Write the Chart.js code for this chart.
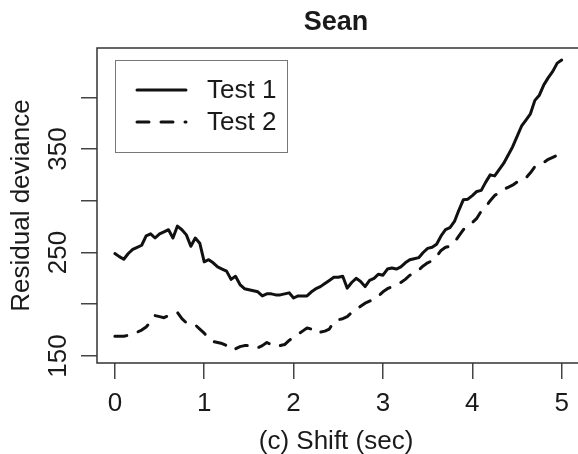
<!DOCTYPE html>
<html>
<head>
<meta charset="utf-8">
<script src="https://cdn.jsdelivr.net/npm/chart.js@4"></script>
<style>
  html, body { margin: 0; padding: 0; background: #fff; }
  #wrap { width: 578px; height: 454px; }
</style>
</head>
<body>
<div id="wrap"><canvas id="chart" width="578" height="454"></canvas></div>
<script>
// Shift (sec) for each evaluated point
const shift = [
  0.00, 0.05, 0.10, 0.15, 0.20, 0.25, 0.30, 0.35, 0.40, 0.45,
  0.50, 0.55, 0.60, 0.65, 0.70, 0.75, 0.80, 0.85, 0.90, 0.95,
  1.00, 1.05, 1.10, 1.15, 1.20, 1.25, 1.30, 1.35, 1.40, 1.45,
  1.50, 1.55, 1.60, 1.65, 1.70, 1.75, 1.80, 1.85, 1.90, 1.95,
  2.00, 2.05, 2.10, 2.15, 2.20, 2.25, 2.30, 2.35, 2.40, 2.45,
  2.50, 2.55, 2.60, 2.65, 2.70, 2.75, 2.80, 2.85, 2.90, 2.95,
  3.00, 3.05, 3.10, 3.15, 3.20, 3.25, 3.30, 3.35, 3.40, 3.45,
  3.50, 3.55, 3.60, 3.65, 3.70, 3.75, 3.80, 3.85, 3.90, 3.95,
  4.00, 4.05, 4.10, 4.15, 4.20, 4.25, 4.30, 4.35, 4.40, 4.45,
  4.50, 4.55, 4.60, 4.65, 4.70, 4.75, 4.80, 4.85, 4.90, 4.95,
  5.00
];

// Residual deviance, Test 1 (solid)
const test1 = [
  249, 246, 243.5, 249, 253, 255, 257, 266, 268, 264,
  268, 270, 272, 264, 275.5, 272, 267, 256, 264, 259,
  241, 243, 240, 236, 234, 232, 224, 227, 219, 215,
  214, 213, 212, 208, 210, 210, 209, 209, 210, 211,
  206, 208, 208, 208, 212, 215, 217, 220, 223, 226,
  226, 227, 215.5, 221, 225, 222, 217, 223, 225, 229,
  228, 234, 235, 234, 236, 240, 243, 244, 245, 250,
  254, 255, 258, 266, 272, 274, 280, 291, 301, 301.5,
  305, 309, 310, 318, 325, 324, 330, 336, 344, 352,
  362, 372, 378, 384, 397, 402, 412, 419, 425, 433,
  436
];

// Residual deviance, Test 2 (dashed)
const test2 = [
  169, 169, 169, 170, 172, 173, 175, 178, 183, 189,
  188, 187, 189, 190, 192, 186, 182, 181, 180, 176,
  172, 167, 164, 163, 162, 160, 156, 157, 159, 160,
  160, 158, 158, 160, 163, 161, 159, 160, 161, 165,
  168, 171, 174, 177, 176, 172, 173, 174, 176, 183,
  185, 186, 188, 192, 195, 198, 201, 203, 205, 208,
  212, 215, 217, 219, 221, 224, 228, 230, 233, 237,
  240, 242, 246, 252, 255, 256, 260, 266, 272, 276,
  279, 283, 290, 294, 300, 305, 308, 311, 313, 315,
  318, 321, 322, 327, 333, 335, 337, 340, 342, 344,
  345
];

const xTicks = [0, 1, 2, 3, 4, 5];
const yTicks = [150, 200, 250, 300, 350, 400];
const yLabelled = [150, 250, 350];

const FONT = '"Liberation Sans", Arial, sans-serif';
const INK = '#1a1a1a';
const AXIS = '#444';

function toPoints(ys) {
  return ys.map((y, i) => ({ x: shift[i], y: y }));
}

// R style frame: the right side of the box falls outside the picture
const framePlugin = {
  id: 'frame',
  afterDatasetsDraw(chart) {
    const { ctx, chartArea: a } = chart;
    ctx.save();
    ctx.strokeStyle = '#333';
    ctx.lineWidth = 1.5;
    ctx.beginPath();
    ctx.moveTo(chart.width, a.top);
    ctx.lineTo(a.left, a.top);
    ctx.lineTo(a.left, a.bottom);
    ctx.lineTo(chart.width, a.bottom);
    ctx.stroke();
    ctx.restore();
  }
};

// boxed legend in the top left corner of the plot
const boxLegendPlugin = {
  id: 'boxLegend',
  afterDraw(chart) {
    const { ctx, chartArea: a } = chart;
    const x0 = a.left + 18, y0 = a.top + 12;
    ctx.save();
    ctx.strokeStyle = '#777';
    ctx.lineWidth = 1;
    ctx.strokeRect(x0 + 0.5, y0 + 0.5, 172, 92);
    chart.data.datasets.forEach((ds, i) => {
      const y = y0 + 30 + i * 32;
      ctx.strokeStyle = ds.borderColor;
      ctx.lineWidth = ds.borderWidth;
      ctx.lineCap = 'round';
      ctx.setLineDash(ds.borderDash || []);
      ctx.beginPath();
      ctx.moveTo(x0 + 22, y);
      ctx.lineTo(x0 + 71, y);
      ctx.stroke();
      ctx.setLineDash([]);
      ctx.fillStyle = INK;
      ctx.font = '26px ' + FONT;
      ctx.textAlign = 'left';
      ctx.textBaseline = 'middle';
      ctx.fillText(ds.label, x0 + 92, y + 1);
    });
    ctx.restore();
  }
};

new Chart(document.getElementById('chart'), {
  type: 'line',
  data: {
    datasets: [
      {
        label: 'Test 1',
        data: toPoints(test1),
        borderColor: '#111',
        borderWidth: 3,
        borderCapStyle: 'round',
        borderJoinStyle: 'round',
        pointRadius: 0,
        tension: 0
      },
      {
        label: 'Test 2',
        data: toPoints(test2),
        borderColor: '#111',
        borderWidth: 3,
        borderDash: [12, 12],
        borderCapStyle: 'round',
        borderJoinStyle: 'round',
        pointRadius: 0,
        tension: 0
      }
    ]
  },
  options: {
    responsive: false,
    animation: false,
    layout: { padding: 0 },
    plugins: {
      legend: { display: false },
      tooltip: { enabled: false },
      title: {
        display: true,
        text: 'Sean',
        fullSize: false,
        color: INK,
        font: { family: FONT, size: 27, weight: 'bold' },
        padding: { top: 6, bottom: 9.6 }
      }
    },
    scales: {
      x: {
        type: 'linear',
        min: -0.2,
        max: 5.15,
        afterBuildTicks: s => { s.ticks = xTicks.map(v => ({ value: v })); },
        afterFit: s => { s.height = 91; },
        grid: { drawOnChartArea: false, drawTicks: true, tickLength: 16, color: AXIS, lineWidth: 1.5 },
        border: { display: false },
        ticks: {
          color: INK,
          padding: 9,
          maxRotation: 0,
          font: { family: FONT, size: 26 }
        },
        title: {
          display: true,
          text: '(c) Shift (sec)',
          color: INK,
          font: { family: FONT, size: 26 },
          padding: { top: 0, bottom: -3.6 }
        }
      },
      y: {
        type: 'linear',
        min: 143.2,
        max: 447.6,
        afterBuildTicks: s => { s.ticks = yTicks.map(v => ({ value: v })); },
        afterFit: s => { s.width = 97; },
        grid: { drawOnChartArea: false, drawTicks: true, tickLength: 16, color: AXIS, lineWidth: 1.5 },
        border: { display: false },
        ticks: {
          color: INK,
          padding: 0.5,
          minRotation: 90,
          maxRotation: 90,
          crossAlign: 'center',
          font: { family: FONT, size: 26 },
          callback: v => (yLabelled.includes(v) ? String(v) : '')
        },
        title: {
          display: true,
          text: 'Residual deviance',
          color: INK,
          font: { family: FONT, size: 26 },
          padding: { top: 6.4, bottom: 0 }
        }
      }
    }
  },
  plugins: [framePlugin, boxLegendPlugin]
});
</script>
</body>
</html>
